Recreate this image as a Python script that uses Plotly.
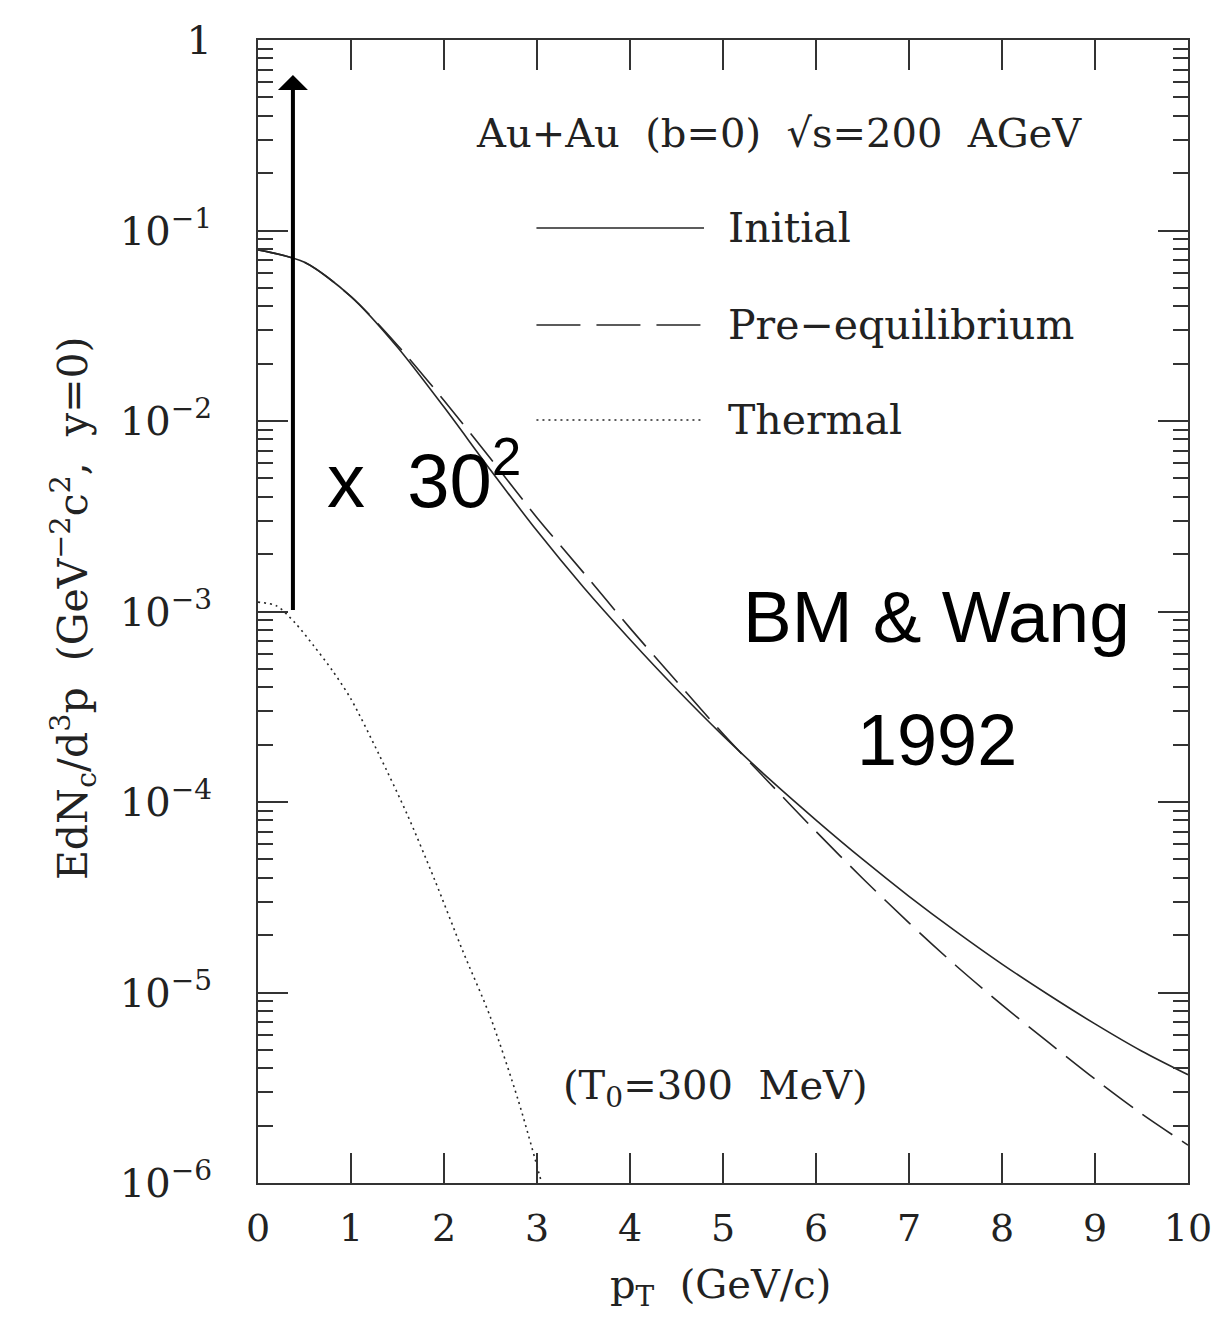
import plotly.graph_objects as go

# ---------------- data ----------------
pt_initial = [0, 0.5, 1.0, 1.5, 2.0, 2.5, 3.0, 3.5, 4.0, 4.5, 5.0,
              5.5, 6.0, 6.5, 7.0, 7.5, 8.0, 8.5, 9.0, 9.5, 10]
initial = [0.0791, 0.0681, 0.0450, 0.0244, 0.01183, 0.00553, 0.00265, 0.00134,
           7.13e-4, 3.92e-4, 2.23e-4, 1.318e-4, 8.04e-5, 5.01e-5, 3.20e-5,
           2.10e-5, 1.41e-5, 9.73e-6, 6.84e-6, 4.93e-6, 3.70e-6]

pt_preeq = [0, 0.5, 1.0, 1.5, 2.0, 2.5, 3.0, 3.5, 4.0, 4.5, 5.0,
            5.5, 6.0, 6.5, 7.0, 7.5, 8.0, 8.5, 9.0, 9.5, 10]
preeq = [0.0791, 0.0681, 0.0450, 0.0250, 0.01282, 0.00635, 0.00311, 0.00160,
         8.18e-4, 4.30e-4, 2.28e-4, 1.259e-4, 7.00e-5, 3.98e-5, 2.32e-5,
         1.39e-5, 8.61e-6, 5.47e-6, 3.51e-6, 2.31e-6, 1.58e-6]

pt_thermal = [0, 0.2, 0.4, 0.6, 0.8, 1.0, 1.3, 1.6, 1.9, 2.2, 2.5, 2.8, 3.05]
thermal = [1.12e-3, 1.07e-3, 8.7e-4, 6.6e-4, 4.9e-4, 3.47e-4, 1.78e-4, 8.7e-5,
           3.9e-5, 1.66e-5, 7.4e-6, 2.7e-6, 1.0e-6]

x_ticks = [0, 1, 2, 3, 4, 5, 6, 7, 8, 9, 10]
x_ticklabels = ["0", "1", "2", "3", "4", "5", "6", "7", "8", "9", "10"]
y_ticks = [1, 1e-1, 1e-2, 1e-3, 1e-4, 1e-5, 1e-6]
y_ticklabels = ["1", "10<sup>−1</sup>", "10<sup>−2</sup>", "10<sup>−3</sup>",
                "10<sup>−4</sup>", "10<sup>−5</sup>", "10<sup>−6</sup>"]
y_minor = [m * 10.0 ** e for e in range(-6, 0) for m in range(2, 10)]

legend_names = ["Initial", "Pre−equilibrium", "Thermal"]

# ---------------- styling ----------------
SERIF = "DejaVu Serif"
SANS = "Liberation Sans"
INK = "#262626"
AX = "#333333"
TXT = "#222222"

fig = go.Figure()
fig.add_trace(go.Scatter(x=pt_initial, y=initial, mode="lines", name=legend_names[0],
                         line=dict(color=INK, width=1.6, shape="spline", smoothing=0.8)))
fig.add_trace(go.Scatter(x=pt_preeq, y=preeq, mode="lines", name=legend_names[1],
                         line=dict(color=INK, width=1.6, dash="36px,12px",
                                   shape="spline", smoothing=0.8)))
fig.add_trace(go.Scatter(x=pt_thermal, y=thermal, mode="lines", name=legend_names[2],
                         line=dict(color=INK, width=1.6, dash="2px,4px",
                                   shape="spline", smoothing=0.8)))

fig.update_layout(
    width=1224, height=1318,
    margin=dict(l=258, r=34, t=40, b=135),
    paper_bgcolor="white", plot_bgcolor="white",
    showlegend=False,
    font=dict(family=SERIF, color=TXT),
)

fig.update_xaxes(
    range=[0, 10], showgrid=False, zeroline=False,
    showline=True, linecolor=AX, linewidth=2, mirror="allticks",
    ticks="inside", ticklen=30, tickwidth=2, tickcolor=AX,
    tickmode="array", tickvals=x_ticks, ticktext=x_ticklabels,
    tickfont=dict(family=SERIF, size=38, color=TXT),
    ticklabelstandoff=10,
)
fig.update_yaxes(
    type="log", range=[-6, 0], showgrid=False, zeroline=False,
    showline=True, linecolor=AX, linewidth=2, mirror="allticks",
    ticks="inside", ticklen=30, tickwidth=2, tickcolor=AX,
    tickmode="array", tickvals=y_ticks, ticktext=y_ticklabels,
    tickfont=dict(family=SERIF, size=40, color=TXT),
    ticklabelstandoff=36,
    minor=dict(ticks="inside", ticklen=15, tickwidth=2, tickcolor=AX,
               tickmode="array", tickvals=y_minor, showgrid=False),
)

# axis titles as annotations
fig.add_annotation(xref="paper", yref="paper", x=0.497, y=0, yshift=-104,
                   xanchor="center", yanchor="middle",
                   text="p<sub>T</sub>  (GeV/c)", showarrow=False,
                   font=dict(family=SERIF, size=40, color=TXT))
fig.add_annotation(xref="paper", yref="paper", x=0, xshift=-185, y=0.503,
                   xanchor="center", yanchor="middle",
                   text="EdN<sub>c</sub>/d<sup>3</sup>p  (GeV<sup>−2</sup>c<sup>2</sup>,  y=0)",
                   textangle=-90, showarrow=False,
                   font=dict(family=SERIF, size=41, color=TXT))

# header
fig.add_annotation(xref="paper", yref="paper", x=0.560, y=0.9187,
                   xanchor="center", yanchor="middle",
                   text="Au+Au  (b=0)  √s=200  AGeV", showarrow=False,
                   font=dict(family=SERIF, size=40, color=TXT))

# legend (drawn manually)
leg_y = [0.8355, 0.7507, 0.6675]
leg_dash = ["solid", "44px,16px", "2px,4px"]
for name, yy, dd in zip(legend_names, leg_y, leg_dash):
    fig.add_shape(type="line", xref="paper", yref="paper", x0=0.2994, x1=0.4796,
                  y0=yy, y1=yy, line=dict(color=INK, width=1.6, dash=dd))
    fig.add_annotation(xref="paper", yref="paper", x=0.5032, y=yy,
                       xanchor="left", yanchor="middle",
                       text=name, showarrow=False,
                       font=dict(family=SERIF, size=41, color=TXT))

fig.add_annotation(xref="paper", yref="paper", x=0.4914, y=0.0831,
                   xanchor="center", yanchor="middle",
                   text="(T<sub>0</sub>=300  MeV)", showarrow=False,
                   font=dict(family=SERIF, size=40, color=TXT))

# added annotations in sans-serif
fig.add_annotation(xref="paper", yref="paper", x=0.0719, y=0.6194,
                   xanchor="left", yanchor="middle",
                   text="x  30<sup>2</sup>", showarrow=False,
                   font=dict(family=SANS, size=76, color="black"))
fig.add_annotation(xref="paper", yref="paper", x=0.7296, y=0.4952,
                   xanchor="center", yanchor="middle",
                   text="BM & Wang", showarrow=False,
                   font=dict(family=SANS, size=73, color="black"))
fig.add_annotation(xref="paper", yref="paper", x=0.7296, y=0.3876,
                   xanchor="center", yanchor="middle",
                   text="1992", showarrow=False,
                   font=dict(family=SANS, size=72, color="black"))

# scaling arrow
fig.add_annotation(x=0.3755, y=-0.184, ax=0.3755, ay=-3.0,
                   xref="x", yref="y", axref="x", ayref="y",
                   showarrow=True, arrowhead=1, arrowsize=1.25, arrowwidth=4,
                   arrowcolor="black", text="", standoff=0, startstandoff=0)

fig.write_html("out.html")
